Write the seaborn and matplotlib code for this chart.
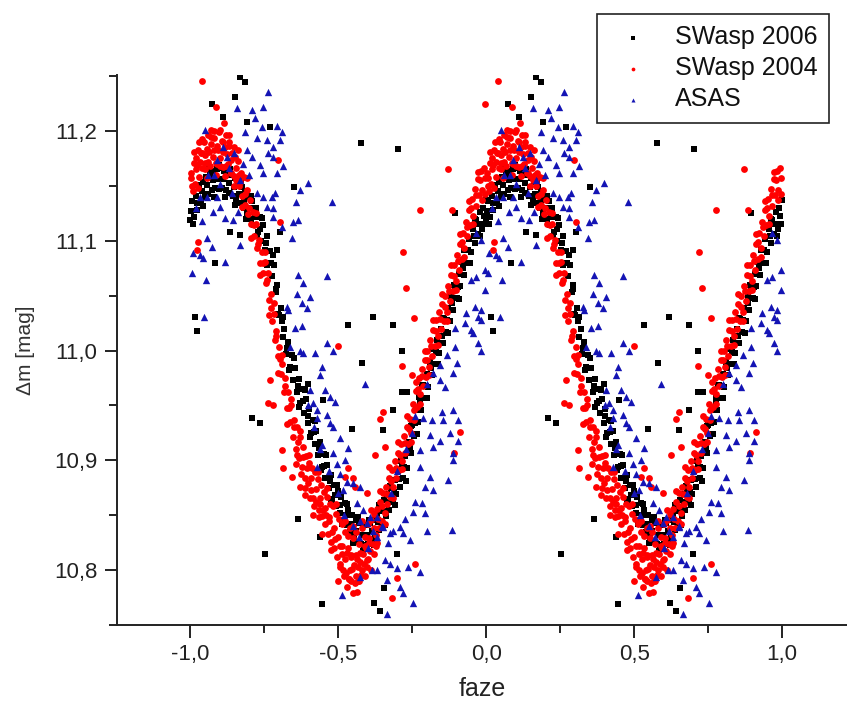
import matplotlib
matplotlib.use("Agg")
import matplotlib.pyplot as plt
import seaborn as sns
import pandas as pd
from matplotlib.ticker import FixedLocator, FixedFormatter, MultipleLocator

# ---------------- data (phase in [0,1), magnitude) ----------------
# SWasp 2006 (black squares)
sw2006_points = [
    (0.001, 11.119), (0.007, 11.136), (0.013, 11.122), (0.019, 11.141), (0.025, 11.128), (0.031, 11.148),
    (0.037, 11.135), (0.043, 11.154), (0.049, 11.140), (0.055, 11.158), (0.061, 11.143), (0.067, 11.161),
    (0.073, 11.146), (0.079, 11.164), (0.085, 11.148), (0.091, 11.165), (0.097, 11.147), (0.103, 11.166),
    (0.109, 11.148), (0.115, 11.164), (0.121, 11.146), (0.127, 11.163), (0.133, 11.144), (0.139, 11.160),
    (0.145, 11.141), (0.151, 11.157), (0.157, 11.138), (0.163, 11.154), (0.169, 11.134), (0.175, 11.149),
    (0.181, 11.130), (0.187, 11.145), (0.193, 11.125), (0.199, 11.140), (0.205, 11.120), (0.211, 11.136),
    (0.217, 11.114), (0.223, 11.130), (0.229, 11.108), (0.235, 11.122), (0.241, 11.100), (0.247, 11.114),
    (0.253, 11.092), (0.259, 11.104), (0.265, 11.080), (0.271, 11.091), (0.277, 11.068), (0.283, 11.078),
    (0.289, 11.053), (0.295, 11.060), (0.301, 11.032), (0.307, 11.039), (0.313, 11.012), (0.319, 11.020),
    (0.325, 10.997), (0.331, 11.008), (0.337, 10.985), (0.343, 10.996), (0.349, 10.973), (0.355, 10.984),
    (0.361, 10.962), (0.367, 10.974), (0.373, 10.952), (0.379, 10.965), (0.385, 10.943), (0.391, 10.956),
    (0.397, 10.934), (0.403, 10.947), (0.409, 10.925), (0.415, 10.937), (0.421, 10.915), (0.427, 10.927),
    (0.433, 10.905), (0.439, 10.917), (0.445, 10.894), (0.451, 10.906), (0.457, 10.884), (0.463, 10.896),
    (0.469, 10.875), (0.475, 10.887), (0.481, 10.865), (0.487, 10.878), (0.493, 10.858), (0.499, 10.872),
    (0.505, 10.852), (0.511, 10.867), (0.517, 10.846), (0.523, 10.861), (0.529, 10.841), (0.535, 10.855),
    (0.541, 10.835), (0.547, 10.850), (0.553, 10.830), (0.559, 10.846), (0.565, 10.826), (0.571, 10.843),
    (0.577, 10.824), (0.583, 10.841), (0.589, 10.823), (0.595, 10.841), (0.601, 10.824), (0.607, 10.843),
    (0.613, 10.827), (0.619, 10.846), (0.625, 10.831), (0.631, 10.851), (0.637, 10.837), (0.643, 10.857),
    (0.649, 10.843), (0.655, 10.864), (0.661, 10.849), (0.667, 10.869), (0.673, 10.855), (0.679, 10.875),
    (0.685, 10.862), (0.691, 10.882), (0.697, 10.869), (0.703, 10.890), (0.709, 10.876), (0.715, 10.897),
    (0.721, 10.884), (0.727, 10.904), (0.733, 10.893), (0.739, 10.917), (0.745, 10.907), (0.751, 10.932),
    (0.757, 10.922), (0.763, 10.946), (0.769, 10.935), (0.775, 10.958), (0.781, 10.946), (0.787, 10.969),
    (0.793, 10.957), (0.799, 10.979), (0.805, 10.967), (0.811, 10.990), (0.817, 10.978), (0.823, 11.001),
    (0.829, 10.988), (0.835, 11.010), (0.841, 10.998), (0.847, 11.020), (0.853, 11.007), (0.859, 11.029),
    (0.865, 11.017), (0.871, 11.039), (0.877, 11.027), (0.883, 11.049), (0.889, 11.037), (0.895, 11.059),
    (0.901, 11.048), (0.907, 11.070), (0.913, 11.059), (0.919, 11.081), (0.925, 11.069), (0.931, 11.092),
    (0.937, 11.080), (0.943, 11.102), (0.949, 11.090), (0.955, 11.111), (0.961, 11.098), (0.967, 11.119),
    (0.973, 11.106), (0.979, 11.126), (0.985, 11.111), (0.991, 11.130), (0.997, 11.115),
    # middle row of the band
    (0.004, 11.127), (0.022, 11.134), (0.040, 11.145), (0.058, 11.151), (0.076, 11.155), (0.094, 11.156),
    (0.112, 11.156), (0.130, 11.153), (0.148, 11.149), (0.166, 11.143), (0.184, 11.137), (0.202, 11.130),
    (0.220, 11.122), (0.238, 11.111), (0.256, 11.098), (0.274, 11.080), (0.292, 11.056), (0.310, 11.027),
    (0.328, 11.002), (0.346, 10.984), (0.364, 10.968), (0.382, 10.954), (0.400, 10.940), (0.418, 10.926),
    (0.436, 10.911), (0.454, 10.895), (0.472, 10.881), (0.490, 10.868), (0.508, 10.859), (0.526, 10.850),
    (0.544, 10.842), (0.562, 10.836), (0.580, 10.832), (0.598, 10.832), (0.616, 10.836), (0.634, 10.844),
    (0.652, 10.854), (0.670, 10.862), (0.688, 10.871), (0.706, 10.883), (0.724, 10.894), (0.742, 10.911),
    (0.760, 10.934), (0.778, 10.952), (0.796, 10.968), (0.814, 10.984), (0.832, 10.999), (0.850, 11.013),
    (0.868, 11.028), (0.886, 11.043), (0.904, 11.058), (0.922, 11.075), (0.940, 11.092), (0.958, 11.104),
    (0.976, 11.115), (0.994, 11.123),
    # outer rows of the band
    (0.009, 11.115), (0.027, 11.151), (0.045, 11.132), (0.063, 11.165), (0.081, 11.140), (0.099, 11.169),
    (0.117, 11.140), (0.135, 11.165), (0.153, 11.133), (0.171, 11.155), (0.189, 11.120), (0.207, 11.141),
    (0.225, 11.104), (0.243, 11.121), (0.261, 11.078), (0.279, 11.087), (0.297, 11.033), (0.315, 11.031),
    (0.333, 10.982), (0.351, 10.993), (0.369, 10.949), (0.387, 10.964), (0.405, 10.921), (0.423, 10.936),
    (0.441, 10.891), (0.459, 10.905), (0.477, 10.863), (0.495, 10.878), (0.513, 10.842), (0.531, 10.860),
    (0.549, 10.825), (0.567, 10.848), (0.585, 10.817), (0.603, 10.846), (0.621, 10.823), (0.639, 10.859),
    (0.657, 10.841), (0.675, 10.877), (0.693, 10.859), (0.711, 10.899), (0.729, 10.881), (0.747, 10.931),
    (0.765, 10.924), (0.783, 10.969), (0.801, 10.957), (0.819, 11.001), (0.837, 10.988), (0.855, 11.030),
    (0.873, 11.016), (0.891, 11.060), (0.909, 11.047), (0.927, 11.092), (0.945, 11.080), (0.963, 11.120),
    (0.981, 11.104), (0.999, 11.137),
    # scattered points
    (0.576, 11.189), (0.701, 11.184), (0.253, 10.815), (0.017, 11.031), (0.024, 11.018), (0.084, 11.080),
    (0.135, 11.108), (0.169, 11.105), (0.351, 11.149), (0.304, 11.108), (0.294, 11.092), (0.618, 11.031),
    (0.534, 11.023), (0.686, 11.023), (0.716, 11.000), (0.209, 10.939), (0.236, 10.934), (0.365, 10.847),
    (0.446, 10.769), (0.622, 10.770), (0.642, 10.763), (0.655, 10.784), (0.581, 10.989), (0.399, 10.970),
    (0.449, 10.955), (0.547, 10.929), (0.652, 10.928), (0.686, 10.946), (0.716, 10.962), (0.733, 10.962),
    (0.439, 10.830), (0.699, 10.815), (0.192, 11.208), (0.152, 11.231), (0.169, 11.249), (0.186, 11.245),
    (0.074, 11.225), (0.111, 11.213), (0.270, 11.204), (0.895, 11.125),
]

# SWasp 2004 (red circles)
sw2004_points = [
    (0.002, 11.162), (0.007, 11.150), (0.012, 11.171), (0.017, 11.152), (0.022, 11.169), (0.027, 11.183),
    (0.032, 11.158), (0.037, 11.180), (0.042, 11.166), (0.047, 11.190), (0.052, 11.171), (0.057, 11.184),
    (0.062, 11.196), (0.067, 11.168), (0.072, 11.188), (0.077, 11.176), (0.082, 11.194), (0.087, 11.171),
    (0.092, 11.186), (0.097, 11.199), (0.102, 11.175), (0.107, 11.191), (0.112, 11.167), (0.117, 11.185),
    (0.122, 11.196), (0.127, 11.170), (0.132, 11.186), (0.137, 11.162), (0.142, 11.180), (0.147, 11.159),
    (0.152, 11.176), (0.157, 11.155), (0.162, 11.173), (0.167, 11.150), (0.172, 11.162), (0.177, 11.141),
    (0.182, 11.158), (0.187, 11.133), (0.192, 11.146), (0.197, 11.124), (0.202, 11.137), (0.207, 11.115),
    (0.212, 11.126), (0.217, 11.104), (0.222, 11.115), (0.227, 11.093), (0.232, 11.101), (0.237, 11.080),
    (0.242, 11.090), (0.247, 11.071), (0.252, 11.081), (0.257, 11.062), (0.262, 11.071), (0.267, 11.046),
    (0.272, 11.052), (0.277, 11.027), (0.282, 11.033), (0.287, 11.010), (0.292, 11.018), (0.297, 10.995),
    (0.302, 11.003), (0.307, 10.979), (0.312, 10.988), (0.317, 10.962), (0.322, 10.975), (0.327, 10.948),
    (0.332, 10.962), (0.337, 10.935), (0.342, 10.950), (0.347, 10.921), (0.352, 10.937), (0.357, 10.910),
    (0.362, 10.930), (0.367, 10.902), (0.372, 10.921), (0.377, 10.894), (0.382, 10.912), (0.387, 10.884),
    (0.392, 10.904), (0.397, 10.879), (0.402, 10.898), (0.407, 10.873), (0.412, 10.893), (0.417, 10.866),
    (0.422, 10.889), (0.427, 10.862), (0.432, 10.883), (0.437, 10.855), (0.442, 10.878), (0.447, 10.849),
    (0.452, 10.871), (0.457, 10.842), (0.462, 10.867), (0.467, 10.833), (0.472, 10.860), (0.477, 10.826),
    (0.482, 10.858), (0.487, 10.820), (0.492, 10.851), (0.497, 10.812), (0.502, 10.847), (0.507, 10.806),
    (0.512, 10.842), (0.517, 10.800), (0.522, 10.835), (0.527, 10.797), (0.532, 10.831), (0.537, 10.792),
    (0.542, 10.838), (0.547, 10.801), (0.552, 10.829), (0.557, 10.788), (0.562, 10.835), (0.567, 10.803),
    (0.572, 10.824), (0.577, 10.796), (0.582, 10.838), (0.587, 10.806), (0.592, 10.830), (0.597, 10.809),
    (0.602, 10.842), (0.607, 10.817), (0.612, 10.846), (0.617, 10.824), (0.622, 10.851), (0.627, 10.832),
    (0.632, 10.856), (0.637, 10.838), (0.642, 10.862), (0.647, 10.845), (0.652, 10.870), (0.657, 10.852),
    (0.662, 10.876), (0.667, 10.860), (0.672, 10.884), (0.677, 10.867), (0.682, 10.891), (0.687, 10.876),
    (0.692, 10.899), (0.697, 10.884), (0.702, 10.907), (0.707, 10.891), (0.712, 10.915), (0.717, 10.899),
    (0.722, 10.922), (0.727, 10.907), (0.732, 10.930), (0.737, 10.915), (0.742, 10.938), (0.747, 10.925),
    (0.752, 10.951), (0.757, 10.937), (0.762, 10.963), (0.767, 10.949), (0.772, 10.975), (0.777, 10.960),
    (0.782, 10.983), (0.787, 10.968), (0.792, 10.991), (0.797, 10.976), (0.802, 11.000), (0.807, 10.985),
    (0.812, 11.010), (0.817, 10.995), (0.822, 11.019), (0.827, 11.004), (0.832, 11.028), (0.837, 11.013),
    (0.842, 11.035), (0.847, 11.020), (0.852, 11.042), (0.857, 11.027), (0.862, 11.050), (0.867, 11.035),
    (0.872, 11.059), (0.877, 11.045), (0.882, 11.069), (0.887, 11.054), (0.892, 11.078), (0.897, 11.063),
    (0.902, 11.087), (0.907, 11.073), (0.912, 11.097), (0.917, 11.083), (0.922, 11.107), (0.927, 11.093),
    (0.932, 11.117), (0.937, 11.104), (0.942, 11.128), (0.947, 11.114), (0.952, 11.138), (0.957, 11.123),
    (0.962, 11.147), (0.967, 11.132), (0.972, 11.156), (0.977, 11.142), (0.982, 11.164), (0.987, 11.146),
    (0.992, 11.166), (0.997, 11.143),
    # middle row of the band
    (0.005, 11.157), (0.020, 11.165), (0.035, 11.172), (0.050, 11.178), (0.065, 11.181), (0.080, 11.183),
    (0.095, 11.183), (0.110, 11.181), (0.125, 11.179), (0.140, 11.174), (0.155, 11.166), (0.170, 11.154),
    (0.185, 11.143), (0.200, 11.130), (0.215, 11.114), (0.230, 11.097), (0.245, 11.080), (0.260, 11.064),
    (0.275, 11.039), (0.290, 11.013), (0.305, 10.992), (0.320, 10.968), (0.335, 10.948), (0.350, 10.930),
    (0.365, 10.917), (0.380, 10.903), (0.395, 10.893), (0.410, 10.884), (0.425, 10.874), (0.440, 10.866),
    (0.455, 10.857), (0.470, 10.848), (0.485, 10.838), (0.500, 10.830), (0.515, 10.822), (0.530, 10.816),
    (0.545, 10.814), (0.560, 10.814), (0.575, 10.816), (0.590, 10.822), (0.605, 10.829), (0.620, 10.838),
    (0.635, 10.847), (0.650, 10.858), (0.665, 10.869), (0.680, 10.881), (0.695, 10.893), (0.710, 10.905),
    (0.725, 10.916), (0.740, 10.929), (0.755, 10.946), (0.770, 10.965), (0.785, 10.977), (0.800, 10.991),
    (0.815, 11.004), (0.830, 11.018), (0.845, 11.029), (0.860, 11.040), (0.875, 11.054), (0.890, 11.068),
    (0.905, 11.082), (0.920, 11.099), (0.935, 11.113), (0.950, 11.130), (0.965, 11.142), (0.980, 11.155),
    (0.995, 11.157),
    # outer rows of the band
    (0.012, 11.181), (0.027, 11.148), (0.042, 11.193), (0.057, 11.157), (0.072, 11.201), (0.087, 11.160),
    (0.102, 11.201), (0.117, 11.159), (0.132, 11.196), (0.147, 11.150), (0.162, 11.183), (0.177, 11.131),
    (0.192, 11.157), (0.207, 11.103), (0.222, 11.125), (0.237, 11.069), (0.252, 11.090), (0.267, 11.032),
    (0.282, 11.043), (0.297, 10.980), (0.312, 10.996), (0.327, 10.933), (0.342, 10.956), (0.357, 10.897),
    (0.372, 10.927), (0.387, 10.868), (0.402, 10.905), (0.417, 10.850), (0.432, 10.889), (0.447, 10.833),
    (0.462, 10.875), (0.477, 10.818), (0.492, 10.860), (0.507, 10.803), (0.522, 10.845), (0.537, 10.792),
    (0.552, 10.840), (0.567, 10.790), (0.582, 10.845), (0.597, 10.803), (0.612, 10.855), (0.627, 10.822),
    (0.642, 10.872), (0.657, 10.842), (0.672, 10.894), (0.687, 10.866), (0.702, 10.917), (0.717, 10.892),
    (0.732, 10.940), (0.747, 10.917), (0.762, 10.971), (0.777, 10.951), (0.792, 11.000), (0.807, 10.978),
    (0.822, 11.028), (0.837, 11.005), (0.852, 11.052), (0.867, 11.027), (0.882, 11.078), (0.897, 11.055),
    (0.912, 11.106), (0.927, 11.085), (0.942, 11.136), (0.957, 11.115), (0.972, 11.163), (0.987, 11.137),
    # extra density in the maximum and minimum
    (0.030, 11.190), (0.050, 11.165), (0.070, 11.195), (0.090, 11.170), (0.110, 11.190), (0.130, 11.190),
    (0.150, 11.185), (0.080, 11.200), (0.060, 11.172), (0.100, 11.168), (0.120, 11.168), (0.140, 11.162),
    (0.040, 11.180), (0.020, 11.175), (0.010, 11.145), (0.165, 11.160),
    (0.490, 10.828), (0.505, 10.822), (0.515, 10.815), (0.525, 10.810), (0.535, 10.820), (0.545, 10.812),
    (0.555, 10.805), (0.565, 10.810), (0.575, 10.807), (0.585, 10.815), (0.595, 10.820), (0.605, 10.825),
    (0.520, 10.795), (0.540, 10.800), (0.560, 10.795), (0.580, 10.800), (0.500, 10.790), (0.530, 10.785),
    (0.570, 10.790), (0.600, 10.810), (0.610, 10.800), (0.620, 10.815), (0.630, 10.825), (0.480, 10.835),
    (0.470, 10.845), (0.460, 10.850), (0.450, 10.855), (0.440, 10.860), (0.590, 10.795), (0.545, 10.790),
    (0.360, 10.905), (0.375, 10.888), (0.390, 10.875), (0.405, 10.866), (0.420, 10.858), (0.435, 10.848),
    # scattered points
    (0.041, 11.246), (0.088, 11.222), (0.115, 11.207), (0.297, 11.174), (0.304, 11.117), (0.027, 11.099),
    (0.022, 11.092), (0.777, 11.128), (0.884, 11.128), (0.720, 11.090), (0.728, 11.057), (0.758, 11.030),
    (0.872, 11.165), (0.500, 11.004), (0.716, 10.986), (0.750, 10.978), (0.652, 10.944), (0.642, 10.938),
    (0.625, 10.905), (0.659, 10.912), (0.534, 10.893), (0.551, 10.884), (0.524, 10.885), (0.556, 10.876),
    (0.598, 10.870), (0.270, 10.973), (0.264, 10.952), (0.280, 10.950), (0.314, 10.893), (0.345, 10.885),
    (0.372, 10.876), (0.311, 10.909), (0.551, 10.779), (0.564, 10.780), (0.682, 10.775), (0.699, 10.793),
    (0.760, 10.806), (0.912, 10.926), (0.893, 10.907), (0.997, 11.225),
]

# ASAS (blue triangles)
asas_points = [
    (0.264, 11.236), (0.247, 11.222), (0.159, 11.221), (0.209, 11.219), (0.220, 11.212), (0.051, 11.201),
    (0.186, 11.199), (0.243, 11.204), (0.294, 11.205), (0.310, 11.199), (0.226, 11.194), (0.260, 11.192),
    (0.304, 11.192), (0.280, 11.185), (0.192, 11.183), (0.262, 11.180), (0.280, 11.176), (0.125, 11.176),
    (0.209, 11.176), (0.315, 11.168), (0.236, 11.169), (0.247, 11.162), (0.294, 11.162), (0.091, 11.174),
    (0.034, 11.140), (0.057, 11.140), (0.091, 11.140), (0.101, 11.131), (0.078, 11.126), (0.162, 11.126),
    (0.118, 11.121), (0.145, 11.119), (0.142, 11.144), (0.226, 11.144), (0.247, 11.140), (0.277, 11.140),
    (0.287, 11.144), (0.260, 11.131), (0.280, 11.130), (0.280, 11.122), (0.372, 11.146), (0.399, 11.153),
    (0.358, 11.135), (0.480, 11.135), (0.348, 11.117), (0.365, 11.119), (0.310, 11.113), (0.345, 11.103),
    (0.169, 11.096), (0.074, 11.094), (0.057, 11.103), (0.118, 11.081), (0.010, 11.089), (0.034, 11.087),
    (0.044, 11.084), (0.007, 11.071), (0.054, 11.064), (0.365, 11.069), (0.382, 11.062), (0.463, 11.068),
    (0.361, 11.052), (0.405, 11.049), (0.378, 11.043), (0.395, 11.039), (0.328, 11.040), (0.331, 11.037),
    (0.047, 11.031), (0.355, 11.021), (0.378, 11.022), (0.463, 11.007), (0.372, 11.000), (0.382, 10.998),
    (0.422, 10.998), (0.483, 11.000), (0.338, 11.003),
    (0.060, 11.160), (0.100, 11.152), (0.130, 11.166), (0.170, 11.155), (0.020, 11.130), (0.040, 11.118),
    (0.200, 11.160), (0.180, 11.170), (0.150, 11.180), (0.110, 11.185), (0.080, 11.160),
    (0.446, 10.985), (0.439, 10.978), (0.591, 10.970), (0.405, 10.964), (0.456, 10.964), (0.473, 10.958),
    (0.490, 10.953), (0.416, 10.952), (0.429, 10.946), (0.463, 10.941), (0.429, 10.939), (0.473, 10.934),
    (0.483, 10.930), (0.507, 10.920), (0.534, 10.911), (0.446, 10.914), (0.483, 10.907), (0.524, 10.900),
    (0.497, 10.897), (0.429, 10.894), (0.507, 10.888), (0.530, 10.880), (0.551, 10.879), (0.574, 10.876),
    (0.517, 10.873), (0.564, 10.861), (0.584, 10.855), (0.608, 10.848), (0.632, 10.848), (0.574, 10.845),
    (0.598, 10.843), (0.618, 10.836), (0.652, 10.839), (0.676, 10.834), (0.686, 10.836), (0.709, 10.839),
    (0.720, 10.834), (0.743, 10.827), (0.760, 10.862), (0.784, 10.861), (0.794, 10.852), (0.753, 10.853),
    (0.726, 10.847), (0.800, 10.836), (0.885, 10.837), (0.669, 10.825), (0.659, 10.809), (0.676, 10.806),
    (0.632, 10.800), (0.615, 10.800), (0.666, 10.791), (0.699, 10.802), (0.736, 10.803), (0.777, 10.798),
    (0.709, 10.785), (0.720, 10.779), (0.514, 10.777), (0.666, 10.760), (0.753, 10.770), (0.574, 10.794),
    (0.821, 10.980), (0.845, 10.973), (0.862, 10.967), (0.889, 10.980), (0.902, 10.989), (0.868, 10.996),
    (0.845, 10.987), (0.851, 10.944), (0.818, 10.937), (0.787, 10.939), (0.855, 10.937), (0.878, 10.925),
    (0.845, 10.918), (0.821, 10.912), (0.811, 10.923), (0.777, 10.909), (0.750, 10.925), (0.777, 10.894),
    (0.811, 10.885), (0.821, 10.873), (0.794, 10.876), (0.889, 10.907), (0.889, 10.900), (0.905, 10.918),
    (0.872, 10.882), (0.905, 10.937), (0.889, 10.946),
    (0.997, 11.073), (0.966, 11.067), (0.949, 11.064), (0.997, 11.055), (0.963, 11.040), (0.983, 11.037),
    (0.932, 11.034), (0.973, 11.031), (0.983, 11.028), (0.949, 11.019), (0.956, 11.016), (0.929, 11.025),
    (0.895, 11.021), (0.973, 11.007), (0.983, 11.000), (0.895, 11.003), (0.983, 11.101), (0.966, 11.107),
    (0.400, 10.950), (0.420, 10.930), (0.440, 10.910), (0.470, 10.890), (0.500, 10.870), (0.520, 10.850),
    (0.550, 10.840), (0.570, 10.830), (0.600, 10.820), (0.630, 10.830), (0.650, 10.840), (0.680, 10.870),
    (0.700, 10.890), (0.730, 10.910), (0.760, 10.940), (0.800, 10.970),
]

series_names = ["SWasp 2006", "SWasp 2004", "ASAS"]
x_ticks = [-1.0, -0.5, 0.0, 0.5, 1.0]
x_ticklabels = ["-1,0", "-0,5", "0,0", "0,5", "1,0"]
y_ticks = [10.8, 10.9, 11.0, 11.1, 11.2]
y_ticklabels = ["10,8", "10,9", "11,0", "11,1", "11,2"]


def two_cycles(points, name):
    """Phase-folded data shown over two cycles (phase and phase - 1)."""
    df = pd.DataFrame(points, columns=["phase", "mag"])
    df2 = df.copy()
    df2["phase"] = df2["phase"] - 1.0
    out = pd.concat([df, df2], ignore_index=True)
    out["series"] = name
    return out


df_2006 = two_cycles(sw2006_points, series_names[0])
df_2004 = two_cycles(sw2004_points, series_names[1])
df_asas = two_cycles(asas_points, series_names[2])

# ---------------- plotting ----------------
sns.set_style("ticks")
plt.rcParams["font.family"] = ["Liberation Sans", "DejaVu Sans"]

fig = plt.figure(figsize=(8.47, 7.06), dpi=100)
ax = fig.add_axes([0.138, 0.1147, 0.862, 0.779])

sns.scatterplot(data=df_2006, x="phase", y="mag", marker="s", color="#000000",
                s=20, linewidth=0, ax=ax, label=series_names[0], zorder=2)
sns.scatterplot(data=df_2004, x="phase", y="mag", marker="o", color="#ff0000",
                s=24, linewidth=0, ax=ax, label=series_names[1], zorder=3)
sns.scatterplot(data=df_asas, x="phase", y="mag", marker="^", color="#1414b4",
                s=28, linewidth=0, ax=ax, label=series_names[2], zorder=4)

ax.set_xlim(-1.247, 1.219)
ax.set_ylim(10.75, 11.251)

ax.xaxis.set_major_locator(FixedLocator(x_ticks))
ax.xaxis.set_major_formatter(FixedFormatter(x_ticklabels))
ax.xaxis.set_minor_locator(MultipleLocator(0.25))
ax.yaxis.set_major_locator(FixedLocator(y_ticks))
ax.yaxis.set_major_formatter(FixedFormatter(y_ticklabels))
ax.yaxis.set_minor_locator(MultipleLocator(0.05))

for side in ["top", "right"]:
    ax.spines[side].set_visible(False)
for side in ["left", "bottom"]:
    ax.spines[side].set_linewidth(1.4)
    ax.spines[side].set_color("#222222")

ax.tick_params(axis="both", which="major", direction="out", length=9, width=1.4,
               color="#222222", labelsize=16, labelcolor="#222222", pad=5)
ax.tick_params(axis="both", which="minor", direction="out", length=6, width=1.4,
               color="#222222")

ax.set_xlabel("faze", fontsize=18, color="#222222", labelpad=8)
ax.set_ylabel("Δm [mag]", fontsize=15, color="#333333", labelpad=14)

leg = ax.legend(loc="upper right", bbox_to_anchor=(0.979, 0.980),
                bbox_transform=fig.transFigure, fontsize=18, frameon=True,
                fancybox=False, edgecolor="#222222", framealpha=1.0,
                markerscale=0.55, handlelength=2.0, handletextpad=0.7,
                borderpad=0.45, labelspacing=0.28, borderaxespad=0)
leg.get_frame().set_linewidth(1.2)
for t in leg.get_texts():
    t.set_color("#111111")

fig.savefig("out.png", dpi=100)
